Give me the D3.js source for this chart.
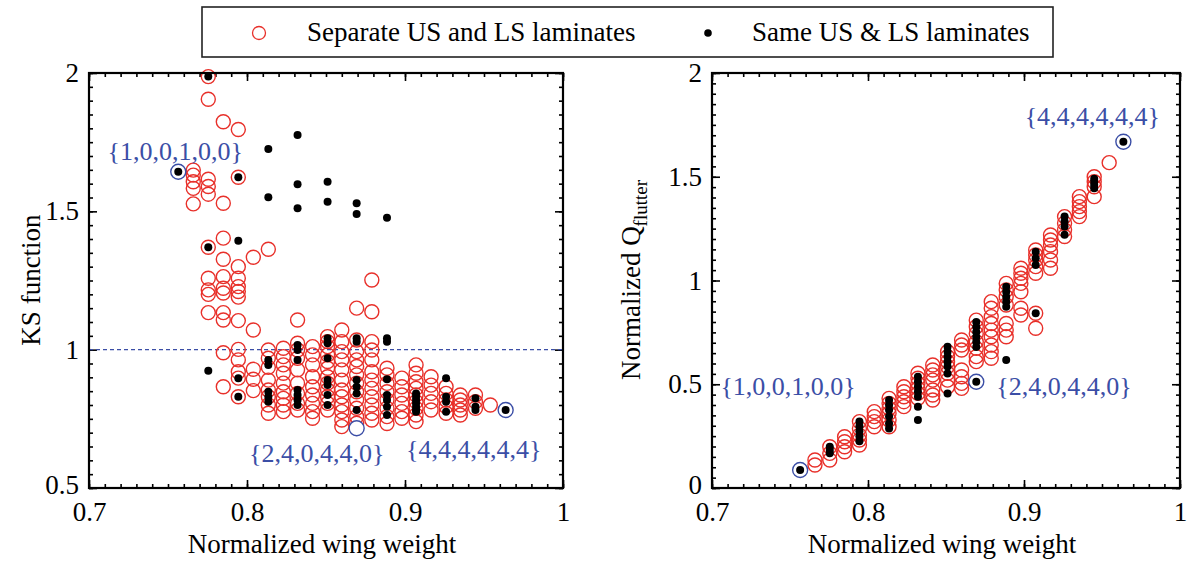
<!DOCTYPE html>
<html>
<head>
<meta charset="utf-8">
<script src="https://cdn.jsdelivr.net/npm/d3@7"></script>
<style>
  body { margin: 0; background: #fff; }
  svg text { font-family: "Liberation Serif", "Times New Roman", serif; }
</style>
</head>
<body>
<div id="chart"></div>
<script>
// KS function, separate US and LS laminates: [wing weight, [KS values]]
var ksSeparate = [
  [0.766, [1.649, 1.631, 1.607, 1.583, 1.527]],
  [0.7755, [1.987, 1.905, 1.616, 1.59, 1.562, 1.37, 1.258, 1.216, 1.2, 1.134]],
  [0.785, [1.824, 1.529, 1.403, 1.327, 1.264, 1.222, 1.205, 1.134, 1.107, 0.989, 0.866]],
  [0.7945, [1.796, 1.623, 1.30, 1.258, 1.228, 1.21, 1.19, 1.105, 1.001, 0.963, 0.92, 0.897, 0.83]],
  [0.804, [1.334, 1.071, 0.929, 0.893, 0.852]],
  [0.8135, [1.363, 0.999, 0.969, 0.936, 0.89, 0.854, 0.83, 0.80, 0.77]],
  [0.823, [1.005, 0.975, 0.945, 0.915, 0.879, 0.848, 0.824, 0.80, 0.776]],
  [0.832, [1.107, 1.023, 0.999, 0.969, 0.927, 0.879, 0.842, 0.806, 0.782]],
  [0.8415, [1.011, 0.981, 0.945, 0.902, 0.866, 0.836, 0.806, 0.776, 0.752]],
  [0.851, [1.047, 1.029, 1.011, 0.981, 0.957, 0.933, 0.902, 0.879, 0.854, 0.83, 0.806, 0.782]],
  [0.860, [1.071, 1.029, 0.993, 0.963, 0.927, 0.89, 0.854, 0.83, 0.80, 0.776, 0.746, 0.722]],
  [0.8694, [1.15, 1.035, 0.993, 0.963, 0.939, 0.909, 0.879, 0.848, 0.818, 0.788, 0.758, 0.734]],
  [0.879, [1.252, 1.137, 1.029, 0.999, 0.963, 0.92, 0.89, 0.86, 0.83, 0.80, 0.77, 0.746]],
  [0.8886, [0.933, 0.909, 0.878, 0.848, 0.818, 0.788, 0.758, 0.733]],
  [0.898, [0.897, 0.866, 0.836, 0.806, 0.776, 0.752]],
  [0.907, [0.945, 0.915, 0.884, 0.86, 0.836, 0.812, 0.788, 0.764, 0.74]],
  [0.9165, [0.902, 0.872, 0.842, 0.812, 0.782]],
  [0.926, [0.866, 0.842, 0.818, 0.794, 0.77]],
  [0.935, [0.836, 0.818, 0.80, 0.782, 0.764]],
  [0.9446, [0.836, 0.812, 0.788]],
  [0.954, [0.80]]
];

// KS function, same US & LS laminates
var ksSame = [
  [0.7755, [1.987, 1.37, 0.924]],
  [0.7945, [1.623, 1.394, 0.897, 0.83]],
  [0.8135, [1.725, 1.551, 0.963, 0.945, 0.848, 0.83, 0.812]],
  [0.832, [1.776, 1.598, 1.511, 1.017, 0.999, 0.963, 0.854, 0.836, 0.818, 0.80]],
  [0.851, [1.607, 1.535, 1.041, 1.023, 0.969, 0.89, 0.872, 0.836, 0.80]],
  [0.8694, [1.529, 1.49, 1.041, 1.029, 0.89, 0.866, 0.842, 0.782]],
  [0.8886, [1.477, 1.041, 1.029, 0.893, 0.836, 0.818, 0.794, 0.764]],
  [0.907, [0.842, 0.83, 0.818, 0.806, 0.794, 0.782, 0.776]],
  [0.926, [0.897, 0.83, 0.812, 0.776]],
  [0.9446, [0.824, 0.794, 0.782]]
];

// normalized Q flutter, separate US and LS laminates
var qSeparate = [
  [0.766, [0.135, 0.111]],
  [0.7755, [0.199, 0.167, 0.135]],
  [0.785, [0.247, 0.223, 0.199, 0.175]],
  [0.7945, [0.32, 0.287, 0.255, 0.231, 0.207]],
  [0.804, [0.368, 0.344, 0.32, 0.295]],
  [0.8135, [0.432, 0.408, 0.384, 0.36, 0.328, 0.295]],
  [0.823, [0.488, 0.464, 0.44, 0.416, 0.392]],
  [0.832, [0.553, 0.529, 0.504, 0.48, 0.456, 0.432]],
  [0.8415, [0.593, 0.569, 0.545, 0.52, 0.472, 0.448, 0.424]],
  [0.851, [0.657, 0.633, 0.609, 0.585, 0.553, 0.52, 0.488]],
  [0.860, [0.713, 0.689, 0.665, 0.569, 0.536, 0.504, 0.48]],
  [0.8694, [0.809, 0.777, 0.745, 0.705, 0.673, 0.633, 0.609]],
  [0.879, [0.898, 0.866, 0.826, 0.793, 0.761, 0.729, 0.689, 0.657, 0.625]],
  [0.8886, [0.986, 0.954, 0.922, 0.882, 0.793, 0.761, 0.729]],
  [0.898, [1.059, 1.035, 1.011, 0.986, 0.946, 0.866, 0.834]],
  [0.9075, [1.147, 1.123, 1.099, 1.067, 1.035, 0.842, 0.77]],
  [0.917, [1.219, 1.195, 1.171, 1.139, 1.099, 1.059]],
  [0.926, [1.308, 1.276, 1.244, 1.212]],
  [0.9355, [1.404, 1.38, 1.356, 1.332, 1.308]],
  [0.945, [1.5, 1.476, 1.452, 1.404]],
  [0.9546, [1.568]]
];

// normalized Q flutter, same US & LS laminates
var qSame = [
  [0.7755, [0.199, 0.183, 0.167]],
  [0.7945, [0.32, 0.297, 0.273, 0.249, 0.225]],
  [0.8135, [0.424, 0.40, 0.376, 0.344, 0.311, 0.287]],
  [0.832, [0.536, 0.512, 0.488, 0.464, 0.44, 0.392, 0.328]],
  [0.851, [0.681, 0.657, 0.633, 0.609, 0.585, 0.552, 0.456]],
  [0.8694, [0.80, 0.776, 0.752, 0.728, 0.704, 0.68]],
  [0.8886, [0.97, 0.946, 0.922, 0.898, 0.874, 0.617]],
  [0.9075, [1.139, 1.107, 1.075, 0.842]],
  [0.926, [1.308, 1.284, 1.26, 1.22]],
  [0.945, [1.49, 1.476, 1.46, 1.444]]
];

// highlighted designs: [wing weight, KS, Q flutter, label, black dot in KS panel]
var highlights = [
  [0.7565, 1.643, 0.087, "{1,0,0,1,0,0}", true],
  [0.8694, 0.716, 0.512, "{2,4,0,4,4,0}", false],
  [0.9637, 0.782, 1.669, "{4,4,4,4,4,4}", true]
];

var xTicks = [0.7, 0.8, 0.9, 1];
var ksTicks = [0.5, 1, 1.5, 2];
var qTicks = [0, 0.5, 1, 1.5, 2];
var ksLimit = 1;

var legendNames = ["Separate US and LS laminates", "Same US & LS laminates"];

var red = "#e8302a", blue = "#3b4ea6";

var svg = d3.select("#chart").append("svg")
    .attr("width", 1188)
    .attr("height", 561);

function flat(cols) {
  var out = [];
  cols.forEach(function(c) {
    c[1].forEach(function(v) { out.push({x: c[0], y: v}); });
  });
  return out;
}

function panel(opt) {
  var x = d3.scaleLinear().domain([0.7, 1]).range([opt.left, opt.right]);
  var y = d3.scaleLinear().domain(opt.yDomain).range([488, 73]);
  var g = svg.append("g");
  var fmt = d3.format("~g");
  var h = 488 - 73, w = opt.right - opt.left;

  // minor ticks on all sides
  var xMinor = d3.range(70, 101).map(function(d) { return d / 100; });
  var yMinor = d3.range(opt.yDomain[0] * 20, opt.yDomain[1] * 20 + 1).map(function(d) { return d / 20; });
  function addAxis(gen, tr) {
    var a = g.append("g").attr("transform", tr).call(gen);
    a.select(".domain").remove();
    a.selectAll("line").attr("stroke", "#000").attr("stroke-width", 1.6);
    return a;
  }
  addAxis(d3.axisBottom(x).tickValues(xMinor).tickSize(-4).tickFormat(""), "translate(0,488)");
  addAxis(d3.axisTop(x).tickValues(xMinor).tickSize(-4).tickFormat(""), "translate(0,73)");
  addAxis(d3.axisLeft(y).tickValues(yMinor).tickSize(-4).tickFormat(""), "translate(" + opt.left + ",0)");
  addAxis(d3.axisRight(y).tickValues(yMinor).tickSize(-4).tickFormat(""), "translate(" + opt.right + ",0)");

  var bx = addAxis(d3.axisBottom(x).tickValues(xTicks).tickSize(-8).tickPadding(14).tickFormat(fmt), "translate(0,488)");
  addAxis(d3.axisTop(x).tickValues(xTicks).tickSize(-8).tickFormat(""), "translate(0,73)");
  var ly = addAxis(d3.axisLeft(y).tickValues(opt.yTicks).tickSize(-8).tickPadding(10).tickFormat(fmt), "translate(" + opt.left + ",0)");
  addAxis(d3.axisRight(y).tickValues(opt.yTicks).tickSize(-8).tickFormat(""), "translate(" + opt.right + ",0)");
  bx.selectAll("text").attr("font-size", 27).attr("fill", "#000").attr("font-family", "Liberation Serif");
  ly.selectAll("text").attr("font-size", 27).attr("fill", "#000").attr("font-family", "Liberation Serif")
    .attr("dy", function(d) { return d == opt.yDomain[0] ? "0.2em" : "0.32em"; });

  if (opt.limit !== undefined) {
    g.append("line")
      .attr("x1", opt.left).attr("x2", opt.right)
      .attr("y1", y(opt.limit)).attr("y2", y(opt.limit))
      .attr("stroke", blue).attr("stroke-width", 1.2)
      .attr("stroke-dasharray", "4,3");
  }

  g.append("g").selectAll("circle").data(flat(opt.sep)).enter().append("circle")
    .attr("cx", function(d) { return x(d.x); })
    .attr("cy", function(d) { return y(d.y); })
    .attr("r", 7)
    .attr("fill", "none")
    .attr("stroke", red)
    .attr("stroke-width", 1.4);

  g.append("g").selectAll("circle").data(flat(opt.same)).enter().append("circle")
    .attr("cx", function(d) { return x(d.x); })
    .attr("cy", function(d) { return y(d.y); })
    .attr("r", 4)
    .attr("fill", "#000");

  var hl = g.append("g").selectAll("g").data(highlights).enter().append("g");
  hl.append("circle")
    .attr("cx", function(d) { return x(d[0]); })
    .attr("cy", function(d) { return y(d[opt.hIndex]); })
    .attr("r", 7.5)
    .attr("fill", "#fff")
    .attr("stroke", blue)
    .attr("stroke-width", 1.4);
  hl.filter(function(d) { return opt.hIndex == 2 || d[4]; }).append("circle")
    .attr("cx", function(d) { return x(d[0]); })
    .attr("cy", function(d) { return y(d[opt.hIndex]); })
    .attr("r", 4)
    .attr("fill", "#000");
  hl.append("text")
    .attr("x", function(d, i) { return x(d[0]) + opt.labelOff[i][0]; })
    .attr("y", function(d, i) { return y(d[opt.hIndex]) + opt.labelOff[i][1]; })
    .attr("text-anchor", function(d, i) { return opt.labelOff[i][2]; })
    .attr("font-size", 26)
    .attr("fill", blue)
    .text(function(d) { return d[3]; });

  // box
  g.append("rect")
    .attr("x", opt.left).attr("y", 73)
    .attr("width", w).attr("height", h)
    .attr("fill", "none").attr("stroke", "#000").attr("stroke-width", 2.2);

  g.append("text")
    .attr("x", (opt.left + opt.right) / 2 - 4)
    .attr("y", 553)
    .attr("text-anchor", "middle")
    .attr("font-size", 27)
    .text("Normalized wing weight");

  var yt = g.append("text")
    .attr("transform", "translate(" + opt.yTitleX + ",280) rotate(-90)")
    .attr("text-anchor", "middle")
    .attr("font-size", 27);
  yt.append("tspan").text(opt.yTitle);
  if (opt.yTitleSub) {
    yt.append("tspan").attr("font-size", 19).attr("dy", 7).text(opt.yTitleSub);
  }
}

panel({
  left: 89, right: 563, yDomain: [0.5, 2], yTicks: ksTicks,
  sep: ksSeparate, same: ksSame, hIndex: 1, limit: ksLimit,
  labelOff: [[-3, -12, "middle"], [-40, 34, "middle"], [-32, 48, "middle"]],
  yTitle: "KS function", yTitleX: 40
});

panel({
  left: 712, right: 1180, yDomain: [0, 2], yTicks: qTicks,
  sep: qSeparate, same: qSame, hIndex: 2,
  labelOff: [[-12, -75, "middle"], [20, 13, "start"], [-31, -17, "middle"]],
  yTitle: "Normalized Q", yTitleSub: "flutter", yTitleX: 640
});

// legend
var lg = svg.append("g");
lg.append("rect")
  .attr("x", 202).attr("y", 7).attr("width", 851).attr("height", 50)
  .attr("fill", "#fff").attr("stroke", "#222").attr("stroke-width", 1.6);
lg.append("circle").attr("cx", 259).attr("cy", 33).attr("r", 6.5)
  .attr("fill", "none").attr("stroke", red).attr("stroke-width", 1.3);
lg.append("text").attr("x", 307).attr("y", 41).attr("font-size", 27).text(legendNames[0]);
lg.append("circle").attr("cx", 708).attr("cy", 33).attr("r", 3.8).attr("fill", "#000");
lg.append("text").attr("x", 752).attr("y", 41).attr("font-size", 27).text(legendNames[1]);
</script>
</body>
</html>
